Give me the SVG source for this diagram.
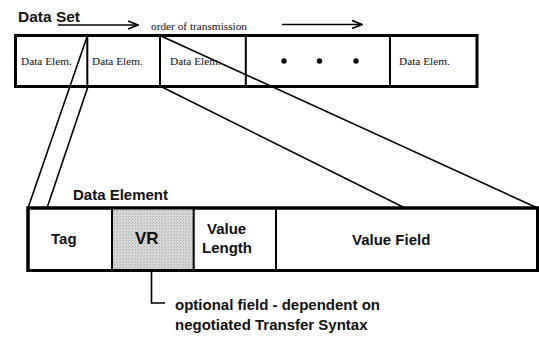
<svg xmlns="http://www.w3.org/2000/svg" width="539" height="338" viewBox="0 0 539 338">
  <defs>
    <pattern id="hatch" width="3" height="3" patternUnits="userSpaceOnUse">
      <rect width="3" height="3" fill="#d8d8d8"/>
      <rect x="0" y="0" width="1" height="1" fill="#a8a8a8"/>
      <rect x="2" y="1" width="1" height="1" fill="#bcbcbc"/>
    </pattern>
    <marker id="openArrow" markerWidth="12" markerHeight="10" refX="11" refY="5" orient="auto" markerUnits="userSpaceOnUse">
      <path d="M1,1 L11,5 L1,9" fill="none" stroke="#000" stroke-width="1.8"/>
    </marker>
  </defs>
  <style>
    .outer { fill: #fff; stroke: #000; stroke-width: 3; }
    .div { stroke: #000; stroke-width: 2; }
    .conn { stroke: #000; stroke-width: 1.6; fill: none; }
    .serif { font-family: "Liberation Serif", "Times New Roman", serif; font-size: 11.3px; fill: #111; }
    .bold { font-family: "Liberation Sans", Arial, sans-serif; font-weight: bold; font-size: 15px; fill: #111; }
  </style>
  <rect width="539" height="338" fill="#fff"/>

  <g id="title-data-set">
    <text class="bold" x="18" y="21.5" style="font-size:15.5px">Data Set</text>
  </g>

  <g id="order-of-transmission">
    <line class="conn" x1="58" y1="25" x2="138" y2="25" stroke-width="2" marker-end="url(#openArrow)"/>
    <text class="serif" x="151" y="29.5">order of transmission</text>
    <line class="conn" x1="282" y1="24.5" x2="362" y2="24.5" stroke-width="2" marker-end="url(#openArrow)"/>
  </g>

  <g id="data-set">
    <rect class="outer" x="15.5" y="35.5" width="461.5" height="51"/>
    <line class="div" x1="87.3" y1="35.5" x2="87.3" y2="86.5"/>
    <line class="div" x1="160" y1="35.5" x2="160" y2="86.5"/>
    <line class="div" x1="245.8" y1="35.5" x2="245.8" y2="86.5"/>
    <line class="div" x1="390" y1="35.5" x2="390" y2="86.5"/>
    <g id="elem1"><text class="serif" x="21" y="65">Data Elem.</text></g>
    <g id="elem2"><text class="serif" x="92" y="65">Data Elem.</text></g>
    <g id="elem3"><text class="serif" x="170" y="65">Data Elem.</text></g>
    <g id="ellipsis">
      <circle cx="284" cy="61" r="2.7" fill="#000"/>
      <circle cx="319.5" cy="61" r="2.7" fill="#000"/>
      <circle cx="356" cy="61" r="2.7" fill="#000"/>
    </g>
    <g id="elemN"><text class="serif" x="399" y="65">Data Elem.</text></g>
  </g>

  <g id="connectors">
    <line class="conn" x1="87.3" y1="36" x2="28" y2="208"/>
    <line class="conn" x1="88" y1="86.5" x2="47" y2="208"/>
    <line class="conn" x1="161" y1="36" x2="537.5" y2="208"/>
    <line class="conn" x1="161" y1="86.5" x2="405" y2="208"/>
    <path class="conn" d="M151.5,253 L151.5,303 L165,303" stroke-width="2"/>
  </g>

  <g id="data-element-title">
    <text class="bold" x="73" y="200">Data Element</text>
  </g>

  <g id="data-element">
    <rect class="outer" x="28" y="208" width="509.5" height="62.5"/>
    <g id="vr">
      <rect x="112" y="208" width="81.7" height="62.5" fill="url(#hatch)"/>
      <text class="bold" x="135" y="244" style="font-size:17px">VR</text>
    </g>
    <rect x="28" y="208" width="509.5" height="62.5" fill="none" stroke="#000" stroke-width="3"/>
    <line class="div" x1="112" y1="208" x2="112" y2="270.5" stroke-width="2.5"/>
    <line class="div" x1="193.7" y1="208" x2="193.7" y2="270.5" stroke-width="2.5"/>
    <line class="div" x1="276" y1="208" x2="276" y2="270.5" stroke-width="2"/>
    <g id="tag"><text class="bold" x="51" y="244">Tag</text></g>
    <g id="value-length">
      <text class="bold" x="207" y="234">Value</text>
      <text class="bold" x="202" y="253">Length</text>
    </g>
    <g id="value-field"><text class="bold" x="352" y="245">Value Field</text></g>
  </g>

  <g id="note">
    <text class="bold" x="175" y="310">optional field - dependent on</text>
    <text class="bold" x="175" y="330">negotiated Transfer Syntax</text>
  </g>
</svg>
